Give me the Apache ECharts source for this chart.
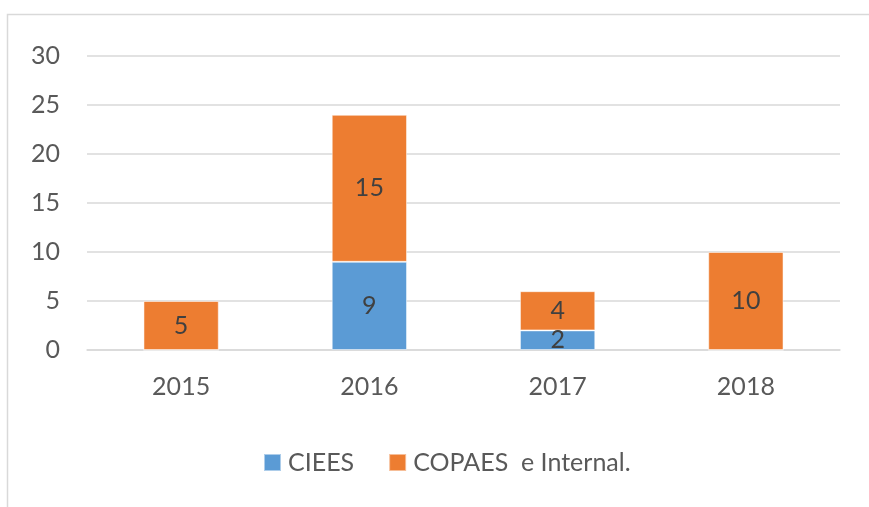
<!DOCTYPE html>
<html>
<head>
<meta charset="utf-8">
<script src="https://cdn.jsdelivr.net/npm/echarts@6/dist/echarts.min.js"></script>
<style>
html, body { margin: 0; padding: 0; background: #fff; }
#chart { width: 869px; height: 507px; }
</style>
</head>
<body>
<div id="chart"></div>
<script>
// data
var years = ["2015", "2016", "2017", "2018"];
var ciees = [0, 9, 2, 0];
var copaes = [5, 15, 4, 10];
var seriesNames = ["CIEES", "COPAES  e Internal."];

var colors = ["#5B9BD5", "#ED7D31"];
var fontName = "Lato, 'Noto Sans', sans-serif";

var chart = echarts.init(document.getElementById("chart"), null, { renderer: "canvas" });

function hideZero(p) {
	return p.value ? String(p.value) : "";
}

var option = {
	animation: false,
	color: colors,
	textStyle: { fontFamily: fontName },
	graphic: [
		{
			// outer chart frame
			type: "rect",
			shape: { x: 7.5, y: 14.5, width: 900, height: 540 },
			style: { fill: "none", stroke: "#D9D9D9", lineWidth: 1.5 },
			silent: true
		}
	],
	legend: {
		left: 263,
		top: 450,
		padding: 0,
		itemWidth: 17,
		itemHeight: 17,
		itemGap: 34,
		icon: "rect",
		textStyle: { fontSize: 25, color: "#595959", fontFamily: fontName, padding: [0, 0, 0, 2] },
		data: seriesNames
	},
	grid: {
		left: 87,
		right: 29,
		top: 56,
		bottom: 157
	},
	xAxis: {
		type: "category",
		data: years,
		axisLine: { lineStyle: { color: "#D9D9D9", width: 1.5 } },
		axisTick: { show: false },
		axisLabel: { color: "#595959", fontSize: 25, margin: 24, fontFamily: fontName }
	},
	yAxis: {
		type: "value",
		min: 0,
		max: 30,
		interval: 5,
		axisLine: { show: false },
		axisTick: { show: false },
		splitLine: { lineStyle: { color: "#D9D9D9", width: 1.5 } },
		axisLabel: { color: "#595959", fontSize: 25, margin: 27, fontFamily: fontName }
	},
	series: [
		{
			name: seriesNames[0],
			type: "bar",
			stack: "total",
			barWidth: "40%",
			data: ciees,
			itemStyle: { borderColor: "rgba(255,255,255,0.5)", borderWidth: 1 },
			label: { show: true, position: "inside", color: "#404040", fontSize: 25, formatter: hideZero }
		},
		{
			name: seriesNames[1],
			type: "bar",
			stack: "total",
			barWidth: "40%",
			data: copaes,
			itemStyle: { borderColor: "rgba(255,255,255,0.5)", borderWidth: 1 },
			label: { show: true, position: "inside", color: "#404040", fontSize: 25, formatter: hideZero }
		}
	]
};
chart.setOption(option);
</script>
</body>
</html>
